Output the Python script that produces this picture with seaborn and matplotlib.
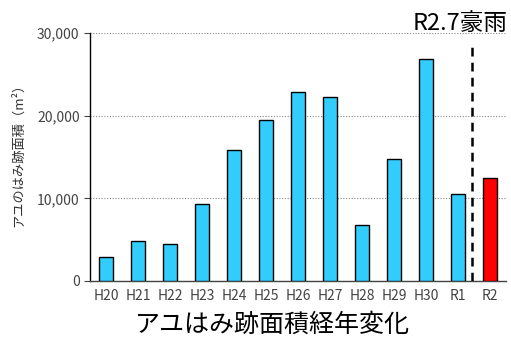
import matplotlib
matplotlib.use("Agg")
import matplotlib.pyplot as plt
import seaborn as sns
import pandas as pd
from matplotlib.ticker import FuncFormatter, FixedLocator

categories = ["H20", "H21", "H22", "H23", "H24", "H25", "H26", "H27", "H28", "H29", "H30", "R1", "R2"]
values = [2900, 4780, 4530, 9350, 15800, 19500, 22900, 22200, 6760, 14700, 26900, 10560, 12400]
bar_colors = ["#33CCFF"] * 12 + ["#FF0000"]
title_text = "アユはみ跡面積経年変化"
ylabel_text = "アユのはみ跡面積（m²）"
event_text = "R2.7豪雨"

sns.set_style("white")
plt.rcParams["font.family"] = ["Noto Sans CJK JP", "DejaVu Sans"]

fig = plt.figure(figsize=(5.11, 3.39), dpi=100)
ax = fig.add_axes([90/511, 1-281/339, 416/511, (281-33)/339])

df = pd.DataFrame({"cat": categories, "val": values})
sns.barplot(data=df, x="cat", y="val", hue="cat", palette=bar_colors, legend=False,
            saturation=1, edgecolor="black", linewidth=1.0, width=0.43, ax=ax, zorder=3)

ax.set_xlim(-0.5, len(categories) - 0.5)
ax.set_ylim(0, 30000)
ax.yaxis.set_major_locator(FixedLocator([0, 10000, 20000, 30000]))
ax.yaxis.set_major_formatter(FuncFormatter(lambda v, p: f"{int(v):,}"))
ax.grid(axis="y", linestyle=(0, (1, 1.5)), color="#888888", linewidth=0.8, zorder=0)
ax.set_axisbelow(True)

for s in ["top", "right"]:
    ax.spines[s].set_visible(False)
ax.spines["left"].set_color("black")
ax.spines["left"].set_linewidth(1.0)
ax.spines["bottom"].set_color("#444444")
ax.spines["bottom"].set_linewidth(1.0)

ax.set_xticks(range(len(categories)))
ax.set_xticklabels(categories)
ax.set_xticks([i - 0.5 for i in range(len(categories) + 1)], minor=True)
ax.tick_params(axis="x", which="major", length=0, pad=6, labelsize=10, colors="#444444")
ax.tick_params(axis="x", which="minor", length=4, direction="out", color="#444444")
ax.tick_params(axis="y", which="major", length=4, direction="out", labelsize=10,
               colors="#444444", left=True)
ax.set_xlabel("")
ax.set_ylabel(ylabel_text, fontsize=9.5, color="#333333")
ax.yaxis.set_label_coords(-0.155, 0.52)

ax.axvline(11.45, ymin=0, ymax=0.955, color="black", linewidth=1.8,
           linestyle=(0, (3.5, 2.5)), zorder=4)

fig.text(508/511, 1-23/339, event_text, ha="right", va="center", fontsize=17, color="black")
fig.text(272/511, 1-325/339, title_text, ha="center", va="center", fontsize=18, color="black")

fig.savefig("out.png", dpi=100)
